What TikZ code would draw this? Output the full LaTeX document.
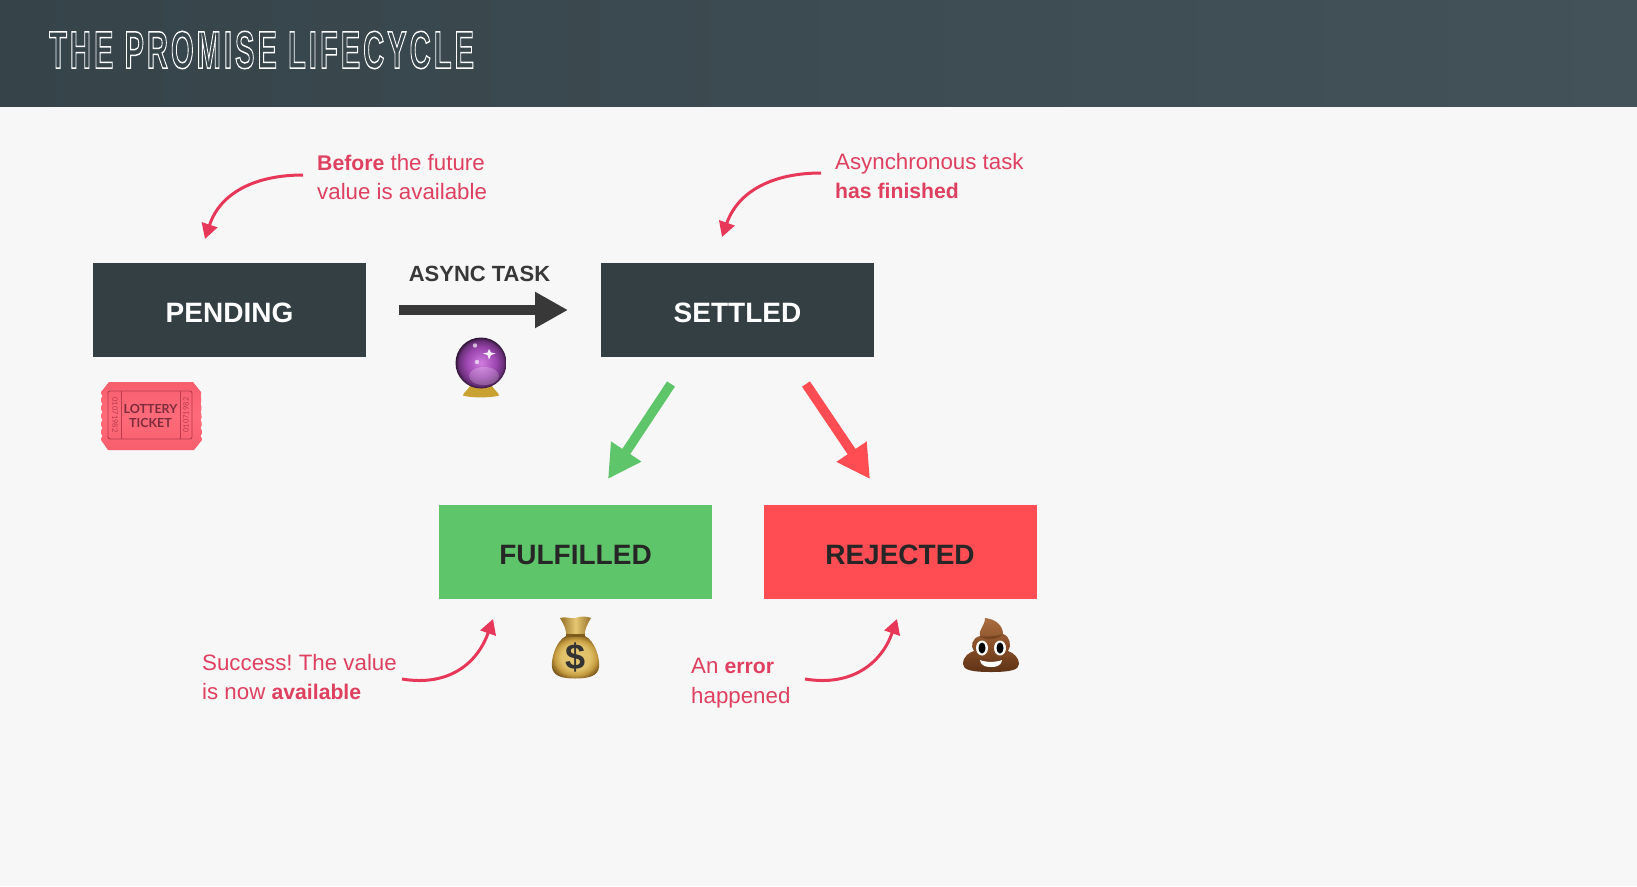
\documentclass[tikz,border=0pt]{standalone}
\usepackage{fontspec}
\setmainfont{Liberation Sans}
\newfontfamily\latof{Lato}
\usetikzlibrary{arrows.meta,calc}
\frenchspacing
\definecolor{bgc}{HTML}{F7F7F7}
\definecolor{hdl}{HTML}{36444A}
\definecolor{hdr}{HTML}{435259}
\definecolor{boxd}{HTML}{343F44}
\definecolor{grn}{HTML}{5FC56A}
\definecolor{redb}{HTML}{FF4D53}
\definecolor{txtr}{HTML}{DF4060}
\definecolor{arrr}{HTML}{E8385A}
\definecolor{tick}{HTML}{FF6B7A}
\definecolor{tickl}{HTML}{F75E6E}
\definecolor{tickd}{HTML}{B83A4C}
\definecolor{tickt}{HTML}{7E2C3C}
\definecolor{brn}{HTML}{8A4F28}
\definecolor{brnd}{HTML}{5E3316}
\definecolor{brnl}{HTML}{A86E40}
\definecolor{bag}{HTML}{C79E42}
\definecolor{bagd}{HTML}{7E5A1C}
\definecolor{bagl}{HTML}{E6C872}
\definecolor{ballc}{HTML}{D07CE0}
\definecolor{ballm}{HTML}{9A45AE}
\definecolor{balld}{HTML}{2E1436}
\definecolor{gold}{HTML}{C9A232}
\pgfdeclareradialshading{ballsh}{\pgfpoint{0bp}{0bp}}{color(0bp)=(ballc);color(15bp)=(ballm);color(22bp)=(ballm!55!balld);color(25bp)=(balld);color(50bp)=(balld)}
\pgfdeclareradialshading{bagsh}{\pgfpoint{0bp}{0bp}}{color(0bp)=(bagl);color(15bp)=(bagl!80!bag);color(21bp)=(bag);color(27bp)=(bagd);color(50bp)=(bagd)}
\tikzset{
  x=1pt,y=-1pt,
  statebox/.style={minimum width=273pt,minimum height=94pt,inner sep=0pt,text height=24pt,text depth=0pt,font=\fontsize{28}{33}\selectfont\bfseries},
  note/.style={anchor=north west,inner sep=0pt,align=left,text=txtr,font=\fontsize{22.3}{29.5}\selectfont},
  callout/.style={draw=arrr,line width=3pt,-{Triangle[length=15pt,width=16pt]}},
  bigarrow/.style={line width=9.5pt,-{Triangle[length=33pt,width=34pt]}},
}
\newcommand{\bn}[1]{{\fontsize{21.2}{29.5}\selectfont\bfseries #1}}
\begin{document}
\begin{tikzpicture}
\useasboundingbox (0,0) rectangle (1637,886);
\fill[bgc] (0,0) rectangle (1637,886);
\shade[left color=hdl,right color=hdr] (0,0) rectangle (1637,106);
\node (title) [anchor=west,inner sep=0pt,text=white,xscale=.55,transform shape,font=\fontsize{53}{54}\selectfont\bfseries\addfontfeature{LetterSpace=10.3}] at (49,50)
  {\special{pdf:code 1 Tr 1.5 w}THE PROMISE LIFECYCLE\special{pdf:code 0 Tr}};

\node (pending) [statebox,fill=boxd,text=white] at (229.5,310) {PENDING};
\node (settled) [statebox,fill=boxd,text=white] at (737.5,310) {SETTLED};
\node (fulfilled) [statebox,fill=grn,text=black!85] at (575.5,552) {FULFILLED};
\node (rejected) [statebox,fill=redb,text=black!85] at (900,552) {REJECTED};

% async task
\node (asynclbl) [font=\fontsize{22}{26}\selectfont\bfseries,text=black!78,inner sep=0pt] at (479.5,274) {ASYNC TASK};
\coordinate (asyncS) at (399,310);
\coordinate (asyncE) at (568,310);
\draw[bigarrow,draw=black!78] (asyncS) -- (asyncE);

% outcome arrows
\coordinate (gS) at (671,384);
\coordinate (gE) at (608,479);
\coordinate (rS) at (806,384);
\coordinate (rE) at (870,479);
\draw[bigarrow,draw=grn] (gS) -- (gE);
\draw[bigarrow,draw=redb] (rS) -- (rE);

% notes
\node (n1) [note] at (317,154) {\bn{Before} the future\\value is available};
\node (n2) [note] at (835,153) {Asynchronous task\\\bn{has finished}};
\node (n3) [note] at (202,654) {Success! The value\\is now \bn{available}};
\node (n4) [note] at (691,658) {An \bn{error}\\happened};

\coordinate (c1S) at (303,175);
\coordinate (c1E) at (205,239);
\coordinate (c2S) at (821,173);
\coordinate (c2E) at (722,237);
\coordinate (c3S) at (402,679);
\coordinate (c3E) at (493,619);
\coordinate (c4S) at (805,679);
\coordinate (c4E) at (897,619);
\draw[callout] (c1S) .. controls (255,175) and (220,193) .. (c1E);
\draw[callout] (c2S) .. controls (773,173) and (738,191) .. (c2E);
\draw[callout] (c3S) .. controls (450,687) and (478,662) .. (c3E);
\draw[callout] (c4S) .. controls (853,687) and (882,662) .. (c4E);

% lottery ticket
\shade[top color=tickl,bottom color=tickl,middle color=tick] (109,382) -- (193,382) -- (201,392) -- (202,440) -- (194,450) -- (108,450) -- (101,440) -- (101,392) -- cycle;
\foreach \yy in {396,404,412,420,428,436}{
  \fill[bgc] (100,\yy) circle (2.2);
  \fill[bgc] (203,\yy) circle (2.2);
}
\draw[tickd,line width=.9pt,rounded corners=2pt] (108,391) rectangle (192,439);
\draw[tickd,line width=.9pt] (121,391) -- (121,439) (180,391) -- (180,439);
\node (ticket) [align=center,inner sep=0pt,text=tickt,font=\latof\fontsize{12.5}{14.5}\selectfont\bfseries] at (150.5,416) {LOTTERY\\TICKET};
\node (num1) [rotate=-90,inner sep=0pt,text=tickd,font=\latof\fontsize{7.5}{8}\selectfont] at (115,415) {01071982};
\node (num2) [rotate=90,inner sep=0pt,text=tickd,font=\latof\fontsize{7.5}{8}\selectfont] at (186,415) {01071982};

% crystal ball
\fill[gold] (470,386) .. controls (467,391) and (463,393) .. (463,395.5) .. controls (470,398) and (492,398) .. (499,395.5) .. controls (499,393) and (495,391) .. (492,386) -- cycle;
\shade[shading=ballsh] (481,363) circle (25.5);
\fill[white,opacity=.2] (484,376) ellipse (15 and 9);
\fill[white,opacity=.9] (489,349) -- (491,352.5) -- (495.5,353.5) -- (491,355) -- (489,359.5) -- (487.5,355) -- (483,353.5) -- (487.5,352.5) -- cycle;
\fill[white,opacity=.65] (475,345.5) circle (2.2) (477,362) circle (2.2);

% money bag
\shade[shading=bagsh] (566,636) .. controls (556,641) and (551,658) .. (552,667) .. controls (553,676) and (562,678.5) .. (575,678.5) .. controls (589,678.5) and (598,676) .. (599,667) .. controls (600,658) and (595,641) .. (585,636) -- cycle;
\shade[left color=bagd!70!bag,right color=bagd!70!bag,middle color=bagl] (560,618) .. controls (566,616) and (570,619) .. (575,618) .. controls (581,616) and (586,616) .. (591,618) .. controls (587,625) and (584,630) .. (585,637) -- (566,637) .. controls (567,630) and (564,625) .. (560,618) -- cycle;
\fill[bagd] (566,634) rectangle (585,637);
\node (dollar) [inner sep=0pt,text=black!80,font=\fontsize{36}{36}\selectfont\bfseries] at (575.5,657) {\$};

% poop
\shade[top color=brnl,bottom color=brnd,middle color=brn] (963,664) .. controls (963,656) and (970,652) .. (974,651) .. controls (970,646) and (972,638) .. (980,636) .. controls (978,630) and (985,626) .. (985,618) .. controls (996,619) and (1003,626) .. (1003,634) .. controls (1010,636) and (1012,646) .. (1008,651) .. controls (1014,653) and (1019,658) .. (1019,664) .. controls (1019,670) and (1010,672) .. (991,672) .. controls (972,672) and (963,670) .. (963,664) -- cycle;
\fill[brnd,opacity=.5] (980,636) .. controls (985,641) and (998,640) .. (1003,634) .. controls (1000,636) and (986,637) .. (980,636) -- cycle;
\fill[white] (982,648) ellipse (6 and 7.5) (1000,648) ellipse (6 and 7.5);
\fill[black] (982,648) ellipse (3.5 and 5.5) (1000,648) ellipse (3.5 and 5.5);
\fill[white] (980,660) .. controls (986,662.5) and (996,662.5) .. (1002,660) .. controls (1001,667) and (994,667) .. (991,667) .. controls (988,667) and (981,667) .. (980,660) -- cycle;
\end{tikzpicture}
\end{document}
